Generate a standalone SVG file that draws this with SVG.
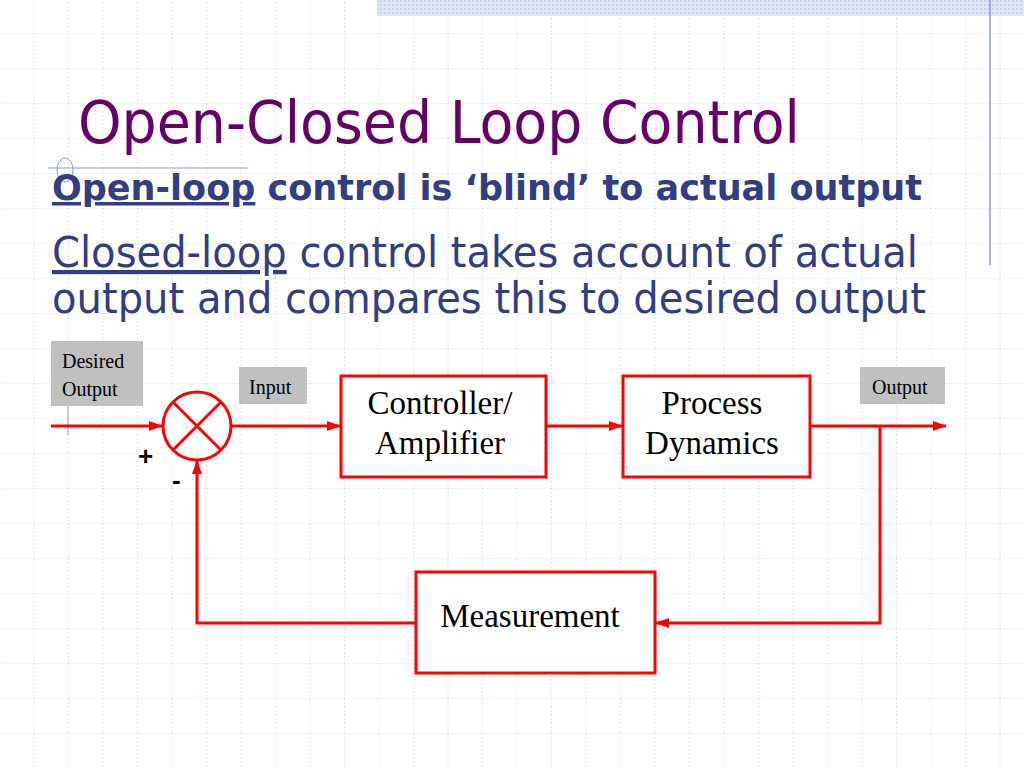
<svg xmlns="http://www.w3.org/2000/svg" width="1024" height="768" viewBox="0 0 1024 768">
<defs>
<pattern id="grid" x="-1" y="-2" width="34.5" height="35" patternUnits="userSpaceOnUse">
<path d="M0 0H34.5M0 0V35" fill="none" stroke="#c9d1ea" stroke-width="1.2" stroke-dasharray="2 2"/>
</pattern>
<pattern id="tex" width="4" height="4" patternUnits="userSpaceOnUse">
<rect width="4" height="4" fill="#dfe4f4"/><rect width="2" height="2" fill="#c8d0ec"/>
</pattern>
<marker id="ah" markerWidth="14" markerHeight="10" refX="13" refY="5" orient="auto" markerUnits="userSpaceOnUse">
<path d="M0 0L14 5L0 10z" fill="#ff0000"/>
</marker>
<style>
.box{fill:#fff;stroke:#ff0000;stroke-width:3}
.lbl{fill:#c0c0c0}
.ln{fill:none;stroke:#ff0000;stroke-width:3}
.t{font-family:"Liberation Serif",serif;fill:#000}
</style>
</defs>
<rect width="1024" height="768" fill="#fff"/>
<rect width="1024" height="768" fill="url(#grid)"/>
<rect x="377" y="0" width="647" height="16" fill="url(#tex)"/>
<line x1="990" y1="0" x2="990" y2="265" stroke="#8a9ad4" stroke-width="1.5"/>
<line x1="48" y1="168" x2="248" y2="168" stroke="#8a9ad4" stroke-width="1"/>
<ellipse cx="65" cy="170" rx="8" ry="12" fill="none" stroke="#8a9ad4" stroke-width="1"/>
<line x1="68" y1="355" x2="68" y2="435" stroke="#8a9ad4" stroke-width="1"/>
<text x="78" y="143" font-family="DejaVu Sans Condensed, DejaVu Sans, sans-serif" font-size="58" fill="#660066" textLength="722" lengthAdjust="spacingAndGlyphs">Open-Closed Loop Control</text>
<text x="52" y="200" font-family="DejaVu Sans Condensed, DejaVu Sans, sans-serif" font-weight="bold" font-size="35" fill="#333d80" textLength="870" lengthAdjust="spacingAndGlyphs"><tspan text-decoration="underline">Open-loop</tspan> control is ‘blind’ to actual output</text>
<text x="52" y="267" font-family="DejaVu Sans Condensed, DejaVu Sans, sans-serif" font-size="42" fill="#333d80" textLength="866" lengthAdjust="spacingAndGlyphs"><tspan text-decoration="underline">Closed-loop</tspan> control takes account of actual</text>
<text x="52" y="313" font-family="DejaVu Sans Condensed, DejaVu Sans, sans-serif" font-size="42" fill="#333d80" textLength="874" lengthAdjust="spacingAndGlyphs">output and compares this to desired output</text>
<g id="desired"><rect class="lbl" x="51" y="341" width="92" height="65"/><text class="t" x="62" y="368" font-size="20">Desired</text><text class="t" x="62" y="396" font-size="20">Output</text></g>
<g id="input"><rect class="lbl" x="239" y="367" width="68" height="37"/><text class="t" x="249" y="394" font-size="20">Input</text></g>
<g id="output"><rect class="lbl" x="860" y="367" width="85" height="37"/><text class="t" x="872" y="394" font-size="20">Output</text></g>
<g id="sum"><circle cx="197" cy="426" r="34" fill="#fff" stroke="#ff0000" stroke-width="3"/><path d="M173 402L221 450M221 402L173 450" class="ln"/>
<text x="138" y="465" font-family="Liberation Sans, sans-serif" font-size="26" font-weight="bold">+</text>
<text x="172" y="489" font-family="Liberation Sans, sans-serif" font-size="26" font-weight="bold">-</text></g>
<g id="controller"><rect class="box" x="341" y="376" width="205" height="101"/><text class="t" x="440" y="414" font-size="33" text-anchor="middle">Controller/</text><text class="t" x="440" y="454" font-size="33" text-anchor="middle">Amplifier</text></g>
<g id="process"><rect class="box" x="623" y="376" width="187" height="101"/><text class="t" x="712" y="414" font-size="33" text-anchor="middle">Process</text><text class="t" x="712" y="454" font-size="33" text-anchor="middle">Dynamics</text></g>
<g id="measurement"><rect class="box" x="416" y="572" width="239" height="101"/><text class="t" x="530" y="627" font-size="33" text-anchor="middle">Measurement</text></g>
<g id="connectors">
<line class="ln" x1="51" y1="426" x2="162" y2="426" marker-end="url(#ah)"/>
<line class="ln" x1="231" y1="426" x2="340" y2="426" marker-end="url(#ah)"/>
<line class="ln" x1="546" y1="426" x2="622" y2="426" marker-end="url(#ah)"/>
<line class="ln" x1="810" y1="426" x2="946" y2="426" marker-end="url(#ah)"/>
<path class="ln" d="M880 426V623H656" marker-end="url(#ah)"/>
<path class="ln" d="M416 623H197V461" marker-end="url(#ah)"/>
</g>
</svg>
